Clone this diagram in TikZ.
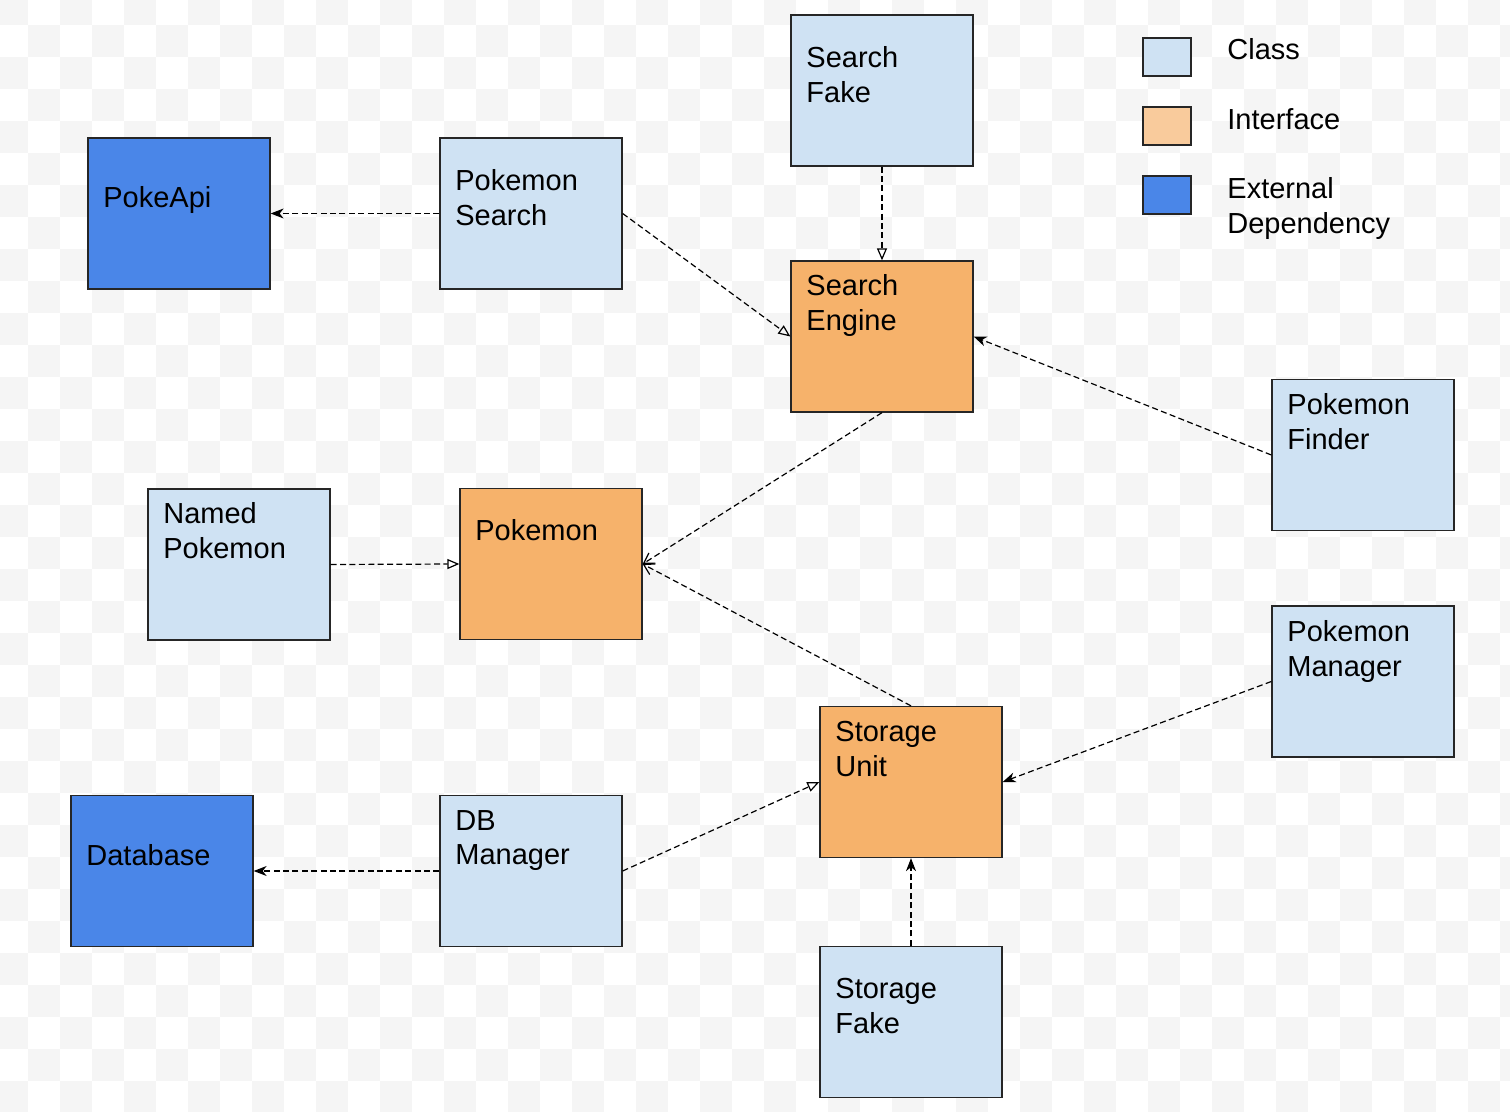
\documentclass[tikz,border=0pt]{standalone}
\usepackage{fontspec}
\setmainfont{Liberation Sans}
\usepackage{tikz}
\usetikzlibrary{arrows.meta,positioning}

\definecolor{clsblue}{HTML}{CFE2F3}
\definecolor{ifaceorange}{HTML}{F6B26B}
\definecolor{legorange}{HTML}{F9CB9C}
\definecolor{extblue}{HTML}{4A86E8}
\definecolor{chk}{HTML}{F5F5F5}

\tikzset{
	box/.style={draw=black!85, line width=0.65pt, minimum width=91pt, minimum height=75.5pt, inner sep=0pt},
	cls/.style={box, fill=clsblue},
	iface/.style={box, fill=ifaceorange},
	ext/.style={box, fill=extblue},
	swatch/.style={draw=black!85, line width=0.65pt, minimum width=24pt, minimum height=19pt, inner sep=0pt},
	txt/.style={anchor=west, align=left, inner sep=0pt, font=\fontsize{14.5}{17.4}\selectfont},
	link/.style={line width=0.6pt, dash pattern=on 3pt off 1.7pt},
	dep/.style={link, -{Stealth[length=6.5pt, width=5pt, inset=2pt]}},
	impl/.style={link, -{Triangle[open, length=6pt, width=5pt]}},
	uses/.style={link, -{Straight Barb[length=5pt, width=6pt]}}
}

\begin{document}
\begin{tikzpicture}[x=0.5pt, y=-0.5pt]
	\path[use as bounding box, clip] (0,0) rectangle (1510,1112);
	% background checks
	\foreach \c in {0,2,...,46}
		\foreach \r in {0,2,...,34}
			\fill[chk] (\c*32-4,\r*32-7) rectangle ++(32,32);
	\foreach \c in {1,3,...,47}
		\foreach \r in {1,3,...,35}
			\fill[chk] (\c*32-4,\r*32-7) rectangle ++(32,32);

	% boxes
	\node[ext] (pokeapi) at (179,213.5) {};
	\node[cls] (psearch) at (531,213.5) {};
	\node[cls] (sfake) at (882,90.5) {};
	\node[iface] (sengine) at (882,336.5) {};
	\node[cls] (pfinder) at (1363,455) {};
	\node[cls] (named) at (239,564.5) {};
	\node[iface] (pokemon) at (551,564) {};
	\node[cls] (pmanager) at (1363,681.5) {};
	\node[iface] (sunit) at (911,782) {};
	\node[ext] (database) at (162,871) {};
	\node[cls] (dbmanager) at (531,871) {};
	\node[cls] (stfake) at (911,1022) {};

	\node[txt] (pokeapi-t) at (103,200) {PokeApi};
	\node[txt] (psearch-t) at (455,197.5) {Pokemon\\Search};
	\node[txt] (sfake-t) at (806,75) {Search\\Fake};
	\node[txt] (sengine-t) at (806,305.5) {Search\\Engine};
	\node[txt] (pfinder-t) at (1287,422) {Pokemon\\Finder};
	\node[txt] (named-t) at (163,531) {Named\\Pokemon};
	\node[txt] (pokemon-t) at (475,530) {Pokemon};
	\node[txt] (pmanager-t) at (1287,651.5) {Pokemon\\Manager};
	\node[txt] (sunit-t) at (835,749) {Storage\\Unit};
	\node[txt] (database-t) at (86,855) {Database};
	\node[txt] (dbmanager-t) at (455,840.5) {DB\\Manager};
	\node[txt] (stfake-t) at (835,1006) {Storage\\Fake};

	% legend
	\node[swatch, fill=clsblue] (leg-cls) at (1167,57) {};
	\node[swatch, fill=legorange] (leg-iface) at (1167,126) {};
	\node[swatch, fill=extblue] (leg-ext) at (1167,195) {};
	\node[txt] (leg-cls-t) at (1227,49) {Class};
	\node[txt] (leg-iface-t) at (1227,119) {Interface};
	\node[txt] (leg-ext-t) at (1227,208.5) {External\\Dependency};

	% connectors
	\draw[dep] (psearch.west) -- (pokeapi.east);
	\draw[impl] (psearch.east) -- (sengine.west);
	\draw[impl] (sfake.south) -- (sengine.north);
	\draw[dep] (pfinder.west) -- (sengine.east);
	\draw[uses] (sengine.south) -- (pokemon.east);
	\draw[uses] (sunit.north) -- (pokemon.east);
	\draw[impl] (named.east) -- (pokemon.west);
	\draw[dep] (pmanager.west) -- (sunit.east);
	\draw[impl] (dbmanager.east) -- (sunit.west);
	\draw[dep] (dbmanager.west) -- (database.east);
	\draw[dep] (stfake.north) -- (sunit.south);
\end{tikzpicture}
\end{document}
